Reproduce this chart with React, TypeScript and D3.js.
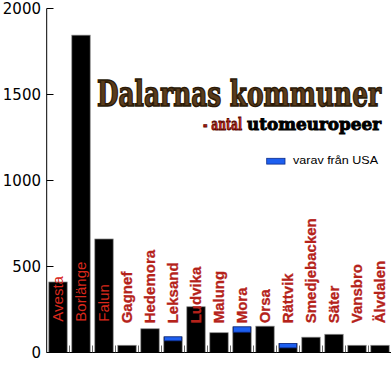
import React from "react";
import * as d3 from "d3";

const categories = ["Avesta", "Borlänge", "Falun", "Gagnef", "Hedemora", "Leksand", "Ludvika", "Malung", "Mora", "Orsa", "Rättvik", "Smedjebacken", "Säter", "Vansbro", "Älvdalen"];
const totals = [410, 1845, 660, 42, 138, 91, 266, 115, 149, 153, 52, 89, 106, 42, 42];
const usa = [0, 0, 0, 0, 0, 23, 0, 0, 31, 0, 25, 0, 0, 0, 0];
const yTicks = [0, 500, 1000, 1500, 2000];
const insideLabels = ["Avesta", "Borlänge", "Falun"];

const W = 391;
const H = 371;

export default function App() {
  const x = d3.scaleBand<string>().domain(categories).range([46.5, 391.5]).paddingInner(0.2).paddingOuter(0.1);
  const y = d3.scaleLinear().domain([0, 2000]).range([352.5, 8.5]);
  const step = x.step();
  const bw = x.bandwidth();

  return (
    <svg width={W} height={H} style={{ position: "absolute", left: 0, top: 0, background: "#fff" }}>
      <rect x={0} y={0} width={W} height={H} fill="#fff" />
      {/* bars */}
      {categories.map((c, i) => {
        const x0 = x(c)!;
        const t = totals[i];
        const u = usa[i];
        return (
          <g key={c}>
            <rect x={x0} y={y(t)} width={bw} height={y(0) - y(t)} fill="#000" stroke="#8a8a8a" strokeWidth={0.7} />
            {u > 0 && (
              <rect x={x0 + 0.5} y={y(t)} width={bw - 1} height={y(t - u) - y(t)} fill="#1d5ff0" stroke="#0c2c8a" strokeWidth={0.8} />
            )}
          </g>
        );
      })}
      {/* y axis */}
      <line x1={46.7} x2={46.7} y1={y(2000)} y2={y(0)} stroke="#000" strokeWidth={1} />
      {yTicks.map((t) => (
        <g key={t}>
          <line x1={46.7} x2={53.5} y1={y(t)} y2={y(t)} stroke="#000" strokeWidth={1} />
          <text x={41} y={y(t)} dy="0.36em" textAnchor="end" fontFamily="DejaVu Sans" fontSize={15} fill="#000">
            {t}
          </text>
        </g>
      ))}
      {/* x axis */}
      <line x1={46.7} x2={391} y1={y(0)} y2={y(0)} stroke="#000" strokeWidth={1} />
      {categories.map((c, i) => (
        <line key={"t" + c} x1={46.5 + step * (i + 1)} x2={46.5 + step * (i + 1)} y1={y(0)} y2={y(0) - 7} stroke="#444" strokeWidth={0.8} />
      ))}
      {/* category labels */}
      {categories.map((c) => {
        const cx = x(c)! + bw / 2 + 5;
        const inside = insideLabels.includes(c);
        const by = inside ? 321.7 : 323.3;
        return (
          <text
            key={"l" + c}
            transform={`translate(${cx},${by}) rotate(-90)`}
            fontFamily="Liberation Sans, Arial, sans-serif"
            fontSize={15}
            fontWeight={inside ? "normal" : "bold"}
            fill={inside ? "#d8281c" : "#b5221a"}
            stroke={inside ? "none" : "#b5221a"}
            strokeWidth={inside ? 0 : 0.3}
          >
            {c}
          </text>
        );
      })}
      {/* title */}
      <text x={97} y={106} fontFamily="DejaVu Serif" fontWeight="bold" fontSize={36} fill="#5a3c1b" stroke="#2b1a08" strokeWidth={1.6} textLength={284} lengthAdjust="spacingAndGlyphs">
        Dalarnas kommuner
      </text>
      <text x={203} y={130} fontFamily="DejaVu Serif" fontWeight="bold" fontSize={16} fill="#c41e10" stroke="#5a0a04" strokeWidth={0.9} textLength={39} lengthAdjust="spacingAndGlyphs">
        - antal
      </text>
      <text x={247} y={130} fontFamily="DejaVu Serif" fontWeight="bold" fontSize={16} fill="#000" stroke="#000" strokeWidth={0.9} textLength={134} lengthAdjust="spacingAndGlyphs">
        utomeuropeer
      </text>
      {/* legend */}
      <rect x={266.7} y={158.3} width={18.3} height={5.8} fill="#1d5ff0" stroke="#0c2c8a" strokeWidth={0.8} />
      <text x={293} y={163.8} fontFamily="Liberation Sans, Arial, sans-serif" fontSize={11.5} fill="#000" textLength={85} lengthAdjust="spacingAndGlyphs">
        varav från USA
      </text>
    </svg>
  );
}
